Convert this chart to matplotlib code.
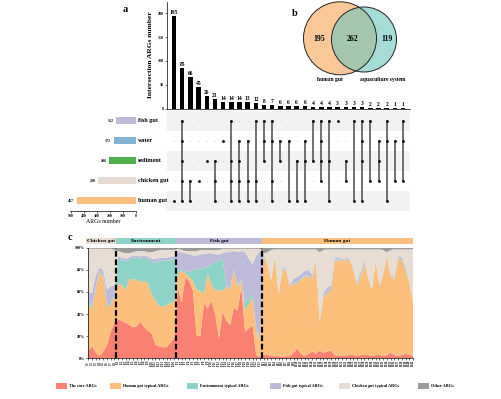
import numpy as np
import matplotlib
matplotlib.use("Agg")
import matplotlib.pyplot as plt
import matplotlib.transforms as mtransforms
from matplotlib.patches import Circle, Rectangle

W, H = 502, 399

# ---------------- panel a : upset data ----------------
set_names = ["human gut", "chicken gut", "sediment", "water", "fish gut"]   # bottom -> top
set_codes = ["H", "C", "S", "W", "F"]
set_sizes = [457, 290, 206, 172, 152]
set_colors = ["#FDBF7C", "#E6DAD1", "#4DAF4A", "#80B1D3", "#BEBADA"]

inter_sets = ["H", "FWSCH", "CH", "C", "S", "SCH", "W", "FSCH", "WSCH", "WCH",
              "FCH", "FWS", "FWCH", "WS", "WH", "SH", "WSH", "FS", "FWSC", "FSH",
              "F", "SC", "FH", "FWSH", "FC", "WSC", "FWH", "WC", "FWC"]
inter_counts = [195, 85, 66, 45, 26, 21, 14, 14, 14, 13, 12, 8, 7, 6, 6, 6, 6,
                4, 4, 4, 3, 3, 3, 3, 2, 2, 2, 1, 1]

# ---------------- panel b : venn ----------------
venn_names = ["human gut", "aquaculture system"]
venn_counts = [195, 262, 119]   # left only, shared, right only

# ---------------- panel c : composition per sample (%) ----------------
groups = ["Chicken gut", "Environment", "Fish gut", "Human gut"]
group_sizes = [8, 16, 23, 41]
group_prefix = ["C", "E", "F", "H"]
group_colors = ["#E8DDD3", "#8DD3C7", "#BEBADA", "#FDBF7C"]

core_pct = [7, 11, 5, 2, 6, 12, 24, 32,
            35, 34, 32, 30, 28, 29, 33, 28, 25, 22, 12, 11, 10, 10, 14, 18,
            64, 50, 73, 70, 62, 21, 20, 50, 45, 52, 40, 18, 42, 34, 30, 46, 43, 65, 24, 27, 30, 3, 1,
            3, 3, 2, 2, 2, 1, 2, 2, 5, 9, 4, 2, 4, 6, 4, 7, 5, 6, 7, 3, 2,
            2, 2, 3, 3, 2, 3, 3, 3, 2, 3, 3, 2, 3, 5, 3, 2, 3, 4, 3, 2]
human_pct = [43, 34, 58, 76, 68, 34, 25, 23,
             33, 32, 30, 41, 44, 42, 36, 42, 43, 36, 40, 36, 37, 38, 36, 33,
             13, 29, 4, 4, 8, 41, 41, 9, 32, 15, 21, 44, 19, 31, 32, 33, 22, 5, 19, 22, 25, 22, 15,
             90, 82, 68, 90, 55, 79, 78, 63, 62, 59, 67, 72, 70, 66, 85, 25, 50, 53, 55, 85, 87,
             86, 87, 86, 77, 64, 71, 83, 69, 60, 84, 62, 73, 90, 69, 69, 88, 86, 76, 65, 49]
env_pct = [4, 2, 2, 1, 2, 2, 2, 2,
           22, 23, 26, 18, 19, 20, 21, 21, 22, 29, 34, 41, 42, 40, 39, 39,
           2, 2, 2, 4, 10, 18, 20, 23, 6, 18, 26, 27, 29, 1, 1, 1, 1, 1, 7, 6, 2, 2, 1,
           0.5, 0.5, 0.5, 0.5, 0.5, 0.5, 0.5, 0.5, 1, 1, 1, 1, 1, 0.5, 0.5, 0.5, 1, 1, 1, 1, 0.5,
           0.5, 0.5, 0.5, 0.5, 1, 2, 1, 0.5, 0.5, 0.5, 0.5, 0.5, 0.5, 0.5, 0.5, 0.5, 1, 1, 0.5, 0.5]
fish_pct = [6, 12, 10, 3, 4, 14, 14, 9,
            2, 2, 2, 2, 2, 2, 2, 2, 2, 3, 4, 3, 2, 3, 3, 2,
            18, 15, 16, 16, 13, 13, 13, 12, 12, 10, 7, 5, 5, 30, 33, 17, 30, 26, 46, 35, 28, 66, 80,
            1, 1, 1, 1, 1, 1, 1, 1, 4, 5, 4, 4, 5, 3, 1, 1, 3, 4, 3, 2, 2,
            1, 1, 1, 1, 2, 3, 2, 1, 1, 1, 1, 1, 1, 1, 1, 1, 2, 2, 1, 1]
chicken_pct = [39, 40, 24, 17, 19, 37, 34, 32,
               5, 5, 5, 4, 3, 4, 5, 4, 4, 6, 7, 7, 7, 7, 6, 6,
               2, 2, 2, 3, 4, 4, 4, 4, 3, 3, 4, 4, 4, 3, 3, 2, 3, 2, 3, 9, 14, 6, 2,
               0.5, 9.5, 26.5, 5, 40, 17, 17, 32, 26.5, 24.5, 22.5, 19.5, 18.5, 23, 8, 62.5, 39, 34.5,
               32.5, 7.5, 7, 9, 8, 8, 17, 29.5, 19.5, 9.5, 25, 35, 10, 32, 21.5, 1.5, 22.5, 25, 7,
               6.5, 15.5, 29, 46]
other_pct = [1, 1, 1, 1, 1, 1, 1, 2,
             3, 4, 5, 5, 4, 3, 3, 3, 4, 4, 3, 2, 2, 2, 2, 2,
             1, 2, 3, 3, 3, 3, 2, 2, 2, 2, 2, 2, 1, 1, 1, 1, 1, 1, 1, 1, 1, 1, 1,
             5, 4, 2, 1.5, 1.5, 1.5, 1.5, 1.5, 1.5, 1.5, 1.5, 1.5, 1.5, 1.5, 1.5, 4, 2, 1.5, 1.5,
             1.5, 1.5, 1.5, 1.5, 1.5, 1.5, 1.5, 1.5, 1.5, 1.5, 1.5, 1.5, 1.5, 2, 4, 2, 1.5, 1.5,
             1.5, 1.5, 1.5, 1.5]
layer_names = ["The core ARGs", "Human gut typical ARGs", "Environment typical ARGs",
               "Fish gut typical ARGs", "Chicken gut typical ARGs", "Other ARGs"]
layer_colors = ["#FA8072", "#FDBF7C", "#8DD3C7", "#BEBADA", "#E8DDD3", "#9A9A9A"]

sample_labels = [f"{p}{i + 1}" for p, n in zip(group_prefix, group_sizes) for i in range(n)]

plt.rcParams["font.family"] = ["Liberation Serif", "DejaVu Serif"]
plt.rcParams["font.weight"] = "bold"


def add_ax(fig, left, top, right, bottom):
    # axes placed by pixel box of the 502x399 canvas
    return fig.add_axes([left / W, 1 - bottom / H, (right - left) / W, (bottom - top) / H])


fig = plt.figure(figsize=(W / 100, H / 100), dpi=100)

# ---- a: intersection bars ----
ax_bar = add_ax(fig, 167, 2, 410, 108.5)
xk = np.arange(len(inter_counts))
ax_bar.bar(xk, inter_counts, width=0.55, color="black")
for xi, c in zip(xk, inter_counts):
    ax_bar.text(xi, c + 2, str(c), ha="center", va="bottom", fontsize=4)
ax_bar.set_xlim(-0.86, 28.85)
ax_bar.set_ylim(0, 224)
ax_bar.set_yticks([0, 50, 100, 150, 200])
ax_bar.set_xticks([])
ax_bar.tick_params(axis="y", labelsize=3, length=1.5, width=0.4, pad=1)
for s in ["top", "right"]:
    ax_bar.spines[s].set_visible(False)
for s in ["left", "bottom"]:
    ax_bar.spines[s].set_linewidth(0.5)
fig.text(150 / W, 1 - 55 / H, "Intersection ARGs number", rotation=90,
         ha="center", va="center", fontsize=5.4)

# ---- a: matrix ----
ax_m = add_ax(fig, 167, 110.5, 410, 210.5)
ax_m.set_xlim(-0.86, 28.85)
ax_m.set_ylim(-0.5, 4.5)
for r in (0, 2, 4):
    ax_m.axhspan(r - 0.5, r + 0.5, color="#F2F2F2", lw=0)
for k, members in enumerate(inter_sets):
    rows = [set_codes.index(ch) for ch in members]
    ax_m.scatter([k] * 5, range(5), s=0.8, color="#D8D8D8", lw=0, zorder=2)
    ax_m.plot([k, k], [min(rows), max(rows)], color="#4A4A4A", lw=1.1, zorder=3)
    ax_m.scatter([k] * len(rows), rows, s=4, color="black", lw=0, zorder=4)
ax_m.axis("off")

# ---- a: set sizes ----
ax_s = add_ax(fig, 70, 110.5, 136, 210.5)
ax_s.barh(range(5), set_sizes, height=0.38, color=set_colors)
ax_s.set_xlim(507, 0)
ax_s.set_ylim(-0.5, 4.5)
ax_s.set_yticks([])
ax_s.set_xticks([500, 400, 300, 200, 100, 0])
ax_s.tick_params(axis="x", labelsize=2.8, length=1.5, width=0.4, pad=0.8)
for s in ["top", "right", "left"]:
    ax_s.spines[s].set_visible(False)
ax_s.spines["bottom"].set_linewidth(0.5)
ax_s.set_xlabel("ARGs number", fontsize=4.2, labelpad=1)
trans = mtransforms.blended_transform_factory(ax_s.transAxes, ax_s.transData)
for r, (name, v) in enumerate(zip(set_names, set_sizes)):
    ax_s.text(1.03, r, name, transform=trans, ha="left", va="center", fontsize=4.4)
    ax_s.text(v + 20, r, str(v), ha="right", va="center", fontsize=2.9)

fig.text(125 / W, 1 - 9 / H, "a", fontsize=7.5, ha="center", va="center")

# ---- b: venn ----
ax_v = add_ax(fig, 290, 0, 402, 90)
ax_v.set_xlim(290, 402)
ax_v.set_ylim(90, 0)
ax_v.axis("off")
c1, r1 = (340, 38.3), 36.5
c2, r2 = (364, 39.5), 32.5
ax_v.add_patch(Circle(c1, r1, fc="#FAC898", ec="none"))
ax_v.add_patch(Circle(c2, r2, fc="#69C6BC", ec="none", alpha=0.6))
ax_v.add_patch(Circle(c1, r1, fill=False, ec="#222222", lw=0.7))
ax_v.add_patch(Circle(c2, r2, fill=False, ec="#222222", lw=0.7))
ax_v.text(319, 39, str(venn_counts[0]), ha="center", va="center", fontsize=5.6)
ax_v.text(352, 39, str(venn_counts[1]), ha="center", va="center", fontsize=5.6)
ax_v.text(386.5, 39, str(venn_counts[2]), ha="center", va="center", fontsize=5.6)
ax_v.text(330, 79, venn_names[0], ha="center", va="center", fontsize=4)
ax_v.text(383, 79, venn_names[1], ha="center", va="center", fontsize=4)
fig.text(295 / W, 1 - 13 / H, "b", fontsize=7.5, ha="center", va="center")

# ---- c: stacked composition ----
ax_c = add_ax(fig, 88.3, 247.7, 413, 358.3)
xs = np.arange(len(sample_labels))
ax_c.stackplot(xs, core_pct, human_pct, env_pct, fish_pct, chicken_pct, other_pct,
               colors=layer_colors, lw=0)
ax_c.set_xlim(0, len(xs) - 1)
ax_c.set_ylim(0, 100)
ax_c.set_yticks(range(0, 101, 20))
ax_c.set_yticklabels([f"{v}%" for v in range(0, 101, 20)])
ax_c.set_xticks(xs)
ax_c.set_xticklabels(sample_labels, rotation=90)
ax_c.tick_params(axis="y", labelsize=3, length=1.5, width=0.4, pad=1)
ax_c.tick_params(axis="x", labelsize=2.2, length=1.2, width=0.4, pad=0.8)
for s in ["top", "right"]:
    ax_c.spines[s].set_visible(False)
for s in ["left", "bottom"]:
    ax_c.spines[s].set_linewidth(0.5)

edges = np.concatenate([[-0.5], np.cumsum(group_sizes) - 0.5])
edges[-1] = len(xs) - 1
for e in edges[1:-1]:
    ax_c.axvline(e, color="black", lw=1.6, ls=(0, (2.6, 1.2)), zorder=5)

htrans = mtransforms.blended_transform_factory(ax_c.transData, ax_c.transAxes)
for g, col, x0, x1 in zip(groups, group_colors, edges[:-1], edges[1:]):
    ax_c.add_patch(Rectangle((x0, 1.034), x1 - x0, 0.054, transform=htrans,
                             fc=col, ec="none", clip_on=False))
    ax_c.text((x0 + x1) / 2, 1.061, g, transform=htrans, ha="center", va="center",
              fontsize=3.9)
fig.text(70 / W, 1 - 237 / H, "c", fontsize=7.5, ha="center", va="center")

# legend row
leg_x = [56, 110, 187, 270, 339, 418]
for name, col, lx in zip(layer_names, layer_colors, leg_x):
    fig.patches.append(Rectangle((lx / W, 1 - 388.5 / H), 11 / W, 5.5 / H,
                                 transform=fig.transFigure, fc=col, ec="none"))
    fig.text((lx + 13) / W, 1 - 385.8 / H, name, ha="left", va="center", fontsize=3.1)

fig.savefig("out.png", dpi=100)
